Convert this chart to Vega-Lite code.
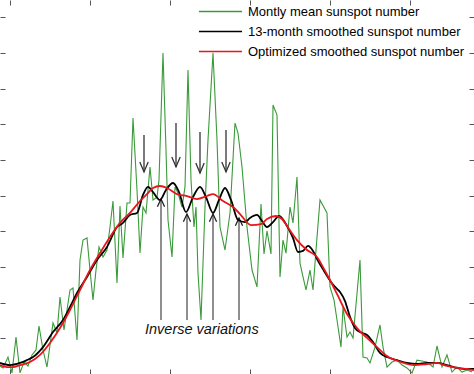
{
  "$schema": "https://vega.github.io/schema/vega-lite/v6.json",
  "width": 474,
  "height": 374,
  "padding": 0,
  "autosize": {"type": "none"},
  "background": "white",
  "config": {"view": {"stroke": null}, "font": "Liberation Sans"},
  "datasets": {
    "monthly": [
      {"m":-3.0,"v":4.5},{"m":-2.1,"v":3.4},{"m":-0.6,"v":9.5},{"m":0.6,"v":0.6},{"m":1.8,"v":20.7},{"m":3.0,"v":0.6},{"m":4.2,"v":6.7},{"m":5.4,"v":4.5},{"m":6.6,"v":10.7},{"m":7.8,"v":13.5},{"m":8.7,"v":26.9},{"m":9.9,"v":13.5},{"m":11.1,"v":3.9},{"m":12.0,"v":16.3},{"m":12.9,"v":28.6},{"m":14.1,"v":23.0},{"m":15.0,"v":43.2},{"m":16.2,"v":24.7},{"m":17.1,"v":35.9},{"m":18.0,"v":47.1},{"m":18.9,"v":48.2},{"m":20.1,"v":19.1},{"m":21.0,"v":63.9},{"m":21.9,"v":75.1},{"m":23.1,"v":76.3},{"m":24.0,"v":58.3},{"m":24.9,"v":41.5},{"m":25.8,"v":58.3},{"m":26.7,"v":71.2},{"m":27.9,"v":65.6},{"m":29.1,"v":69.5},{"m":30.0,"v":82.4},{"m":30.9,"v":97.0},{"m":32.1,"v":51.0},{"m":33.0,"v":94.2},{"m":33.9,"v":65.0},{"m":35.1,"v":95.9},{"m":36.0,"v":95.9},{"m":36.9,"v":143.5},{"m":38.1,"v":103.2},{"m":39.0,"v":67.8},{"m":39.9,"v":93.6},{"m":40.8,"v":90.3},{"m":42.0,"v":116.1},{"m":42.9,"v":97.6},{"m":44.1,"v":99.2},{"m":44.7,"v":108.8},{"m":45.9,"v":180.0},{"m":46.8,"v":125.6},{"m":47.4,"v":86.3},{"m":48.6,"v":65.6},{"m":49.5,"v":104.9},{"m":50.4,"v":101.5},{"m":51.6,"v":93.6},{"m":52.5,"v":104.9},{"m":53.4,"v":170.5},{"m":54.3,"v":108.8},{"m":55.2,"v":82.4},{"m":55.8,"v":93.6},{"m":56.4,"v":56.6},{"m":57.3,"v":30.3},{"m":58.5,"v":93.6},{"m":59.4,"v":131.2},{"m":60.9,"v":180.0},{"m":62.1,"v":131.2},{"m":63.0,"v":82.4},{"m":64.5,"v":69.5},{"m":66.0,"v":90.3},{"m":67.5,"v":140.7},{"m":68.4,"v":135.1},{"m":69.6,"v":116.1},{"m":71.1,"v":82.4},{"m":72.6,"v":58.3},{"m":74.1,"v":48.8},{"m":75.3,"v":95.3},{"m":76.2,"v":67.3},{"m":77.1,"v":80.2},{"m":78.3,"v":67.3},{"m":78.9,"v":150.8},{"m":80.1,"v":145.2},{"m":81.0,"v":54.4},{"m":81.9,"v":75.1},{"m":82.8,"v":67.8},{"m":84.0,"v":93.6},{"m":84.9,"v":84.7},{"m":86.1,"v":110.5},{"m":87.0,"v":62.2},{"m":87.9,"v":54.4},{"m":88.8,"v":47.1},{"m":90.0,"v":58.3},{"m":90.9,"v":47.1},{"m":91.8,"v":69.5},{"m":93.0,"v":97.6},{"m":95.1,"v":90.3},{"m":96.0,"v":48.8},{"m":97.2,"v":41.5},{"m":98.1,"v":30.3},{"m":99.3,"v":15.1},{"m":99.9,"v":37.6},{"m":101.1,"v":20.7},{"m":102.0,"v":23.5},{"m":102.9,"v":20.2},{"m":105.0,"v":63.9},{"m":105.9,"v":9.5},{"m":107.1,"v":9.0},{"m":108.0,"v":6.2},{"m":109.5,"v":15.1},{"m":111.0,"v":27.5},{"m":111.9,"v":15.1},{"m":113.1,"v":3.9},{"m":114.6,"v":6.7},{"m":116.1,"v":7.8},{"m":117.6,"v":5.0},{"m":119.1,"v":3.4},{"m":120.6,"v":0.6},{"m":122.1,"v":7.8},{"m":123.6,"v":7.3},{"m":125.1,"v":6.7},{"m":126.9,"v":3.9},{"m":128.1,"v":15.7},{"m":129.6,"v":3.9},{"m":131.1,"v":10.7},{"m":132.6,"v":1.1},{"m":134.1,"v":3.9},{"m":135.6,"v":1.1},{"m":137.1,"v":2.2},{"m":138.6,"v":1.1}
    ],
    "smooth13": [
      {"m":-3.0,"v":6.2},{"m":0.0,"v":5.0},{"m":3.0,"v":6.2},{"m":5.1,"v":7.8},{"m":6.9,"v":9.5},{"m":9.9,"v":15.1},{"m":12.9,"v":23.5},{"m":15.9,"v":30.3},{"m":18.0,"v":37.6},{"m":20.1,"v":45.4},{"m":23.1,"v":54.4},{"m":26.1,"v":63.9},{"m":29.1,"v":71.2},{"m":32.1,"v":82.4},{"m":33.9,"v":84.7},{"m":36.0,"v":89.2},{"m":38.1,"v":90.3},{"m":39.9,"v":100.4},{"m":41.4,"v":104.9},{"m":42.9,"v":102.0},{"m":45.0,"v":97.6},{"m":46.8,"v":103.2},{"m":48.9,"v":107.1},{"m":50.7,"v":102.0},{"m":52.8,"v":90.8},{"m":54.9,"v":99.2},{"m":57.0,"v":104.9},{"m":58.8,"v":99.2},{"m":60.9,"v":90.3},{"m":62.7,"v":97.6},{"m":64.5,"v":104.3},{"m":66.3,"v":97.6},{"m":68.4,"v":86.3},{"m":70.5,"v":85.2},{"m":72.0,"v":87.5},{"m":74.1,"v":89.2},{"m":75.6,"v":85.8},{"m":77.1,"v":82.4},{"m":78.9,"v":85.2},{"m":80.7,"v":88.6},{"m":83.1,"v":83.0},{"m":84.9,"v":76.3},{"m":86.4,"v":68.4},{"m":87.9,"v":69.0},{"m":89.4,"v":71.8},{"m":90.9,"v":69.0},{"m":92.4,"v":63.4},{"m":94.2,"v":57.8},{"m":96.3,"v":51.6},{"m":98.1,"v":47.7},{"m":99.0,"v":46.0},{"m":100.5,"v":40.9},{"m":102.0,"v":32.0},{"m":103.5,"v":25.8},{"m":105.0,"v":23.5},{"m":107.1,"v":21.9},{"m":108.9,"v":17.9},{"m":111.0,"v":11.8},{"m":113.1,"v":9.5},{"m":116.1,"v":7.8},{"m":119.1,"v":6.2},{"m":122.1,"v":5.6},{"m":125.1,"v":6.2},{"m":128.1,"v":6.2},{"m":131.1,"v":5.0},{"m":134.1,"v":3.4},{"m":136.5,"v":2.8},{"m":139.2,"v":2.8}
    ],
    "optimized": [
      {"m":-3.0,"v":5.0},{"m":-0.9,"v":3.9},{"m":0.9,"v":3.9},{"m":3.0,"v":5.0},{"m":6.0,"v":6.7},{"m":9.0,"v":10.7},{"m":12.0,"v":17.4},{"m":15.0,"v":25.8},{"m":18.0,"v":35.9},{"m":21.0,"v":47.1},{"m":24.0,"v":58.3},{"m":27.0,"v":67.8},{"m":30.0,"v":76.8},{"m":33.0,"v":84.7},{"m":36.0,"v":90.3},{"m":39.0,"v":97.0},{"m":41.1,"v":100.9},{"m":42.9,"v":104.3},{"m":45.0,"v":105.4},{"m":47.1,"v":104.3},{"m":50.1,"v":100.9},{"m":53.1,"v":99.8},{"m":56.1,"v":98.1},{"m":59.1,"v":99.8},{"m":60.9,"v":100.9},{"m":63.9,"v":97.0},{"m":66.9,"v":93.6},{"m":69.0,"v":89.7},{"m":72.3,"v":83.5},{"m":75.3,"v":84.1},{"m":77.1,"v":86.9},{"m":79.8,"v":88.6},{"m":81.6,"v":86.9},{"m":83.7,"v":81.3},{"m":86.1,"v":75.1},{"m":89.1,"v":69.5},{"m":92.1,"v":65.6},{"m":94.2,"v":58.9},{"m":96.3,"v":51.6},{"m":98.1,"v":44.9},{"m":101.1,"v":33.6},{"m":104.1,"v":25.8},{"m":107.1,"v":20.2},{"m":110.1,"v":15.1},{"m":113.1,"v":10.1},{"m":117.3,"v":6.7},{"m":121.2,"v":5.0},{"m":125.1,"v":5.6},{"m":128.1,"v":6.2},{"m":131.1,"v":4.5},{"m":134.1,"v":3.4},{"m":137.1,"v":2.8},{"m":139.2,"v":2.2}
    ],
    "arrows": [
      {"m":40.2,"top":134.0,"tip":113.3},
      {"m":49.8,"top":140.7,"tip":116.1},
      {"m":57.0,"top":135.7,"tip":112.7},
      {"m":64.8,"top":136.8,"tip":113.3}
    ],
    "inverse": [
      {"m":45.3,"top":98.1,"bottom":30.3},
      {"m":53.1,"top":89.7,"bottom":30.3},
      {"m":60.9,"top":89.7,"bottom":30.3},
      {"m":68.7,"top":87.5,"bottom":30.3}
    ],
    "label": [{"m":40.5,"v":22.4,"text":"Inverse variations"}]
  },
  "layer": [
    {
      "data": {"name": "monthly"},
      "mark": {"type": "line", "strokeWidth": 1.1, "interpolate": "linear"},
      "encoding": {
        "x": {"field": "m", "type": "quantitative", "scale": {"domain": [-3, 139.2], "nice": false, "zero": false},
              "axis": {"orient": "bottom", "offset": -5, "tickSize": 5, "labels": false, "domain": false, "grid": false, "title": null, "values": [0,24,48,72,96,120], "tickColor": "#555", "tickWidth": 1}},
        "y": {"field": "v", "type": "quantitative", "scale": {"domain": [0, 209.7], "nice": false, "zero": false},
              "axis": {"orient": "left", "offset": -5, "tickSize": 5, "labels": false, "domain": false, "grid": false, "title": null, "values": [20,40,60,80,100,120,140,160,180,200], "tickColor": "#555", "tickWidth": 1}},
        "color": {"datum": "Montly mean sunspot number", "type": "nominal",
                  "scale": {"domain": ["Montly mean sunspot number", "13-month smoothed sunspot number", "Optimized smoothed sunspot number"], "range": ["#3a9a3a", "#000000", "#e8161c"]},
                  "legend": {"orient": "none", "legendX": 214, "legendY": 5, "title": null, "symbolType": "M-4,0H4", "symbolSize": 116, "symbolStrokeWidth": 1.6, "symbolFillColor": "transparent", "labelFontSize": 13, "labelFont": "Liberation Sans", "labelColor": "#000", "labelOffset": 21, "rowPadding": 6, "padding": 0, "labelLimit": 400}}
      }
    },
    {
      "data": {"name": "arrows"},
      "mark": {"type": "rule", "color": "#333", "strokeWidth": 1.3},
      "encoding": {
        "x": {"field": "m", "type": "quantitative", "axis": null},
        "y": {"field": "top", "type": "quantitative", "axis": null},
        "y2": {"field": "tip"}
      }
    },
    {
      "data": {"name": "arrows"},
      "mark": {"type": "point", "shape": "M-1.4,-3.3L0,0L1.4,-3.3", "filled": false, "size": 36, "stroke": "#333", "strokeWidth": 1.3, "opacity": 1},
      "encoding": {
        "x": {"field": "m", "type": "quantitative", "axis": null},
        "y": {"field": "tip", "type": "quantitative", "axis": null}
      }
    },
    {
      "data": {"name": "inverse"},
      "mark": {"type": "rule", "color": "#444", "strokeWidth": 1.2},
      "encoding": {
        "x": {"field": "m", "type": "quantitative", "axis": null},
        "y": {"field": "top", "type": "quantitative", "axis": null},
        "y2": {"field": "bottom"}
      }
    },
    {
      "data": {"name": "inverse"},
      "mark": {"type": "point", "shape": "M-1.2,2.6L0,0L1.2,2.6", "filled": false, "size": 36, "stroke": "#222", "strokeWidth": 1.3, "opacity": 1},
      "encoding": {
        "x": {"field": "m", "type": "quantitative", "axis": null},
        "y": {"field": "top", "type": "quantitative", "axis": null}
      }
    },
    {
      "data": {"name": "label"},
      "mark": {"type": "text", "align": "left", "baseline": "alphabetic", "fontSize": 14.5, "fontStyle": "italic", "font": "Liberation Sans", "color": "#111"},
      "encoding": {
        "x": {"field": "m", "type": "quantitative", "axis": null},
        "y": {"field": "v", "type": "quantitative", "axis": null},
        "text": {"field": "text"}
      }
    },
    {
      "data": {"name": "smooth13"},
      "mark": {"type": "line", "strokeWidth": 1.8, "interpolate": "monotone"},
      "encoding": {
        "x": {"field": "m", "type": "quantitative",
              "axis": {"orient": "top", "offset": -5, "tickSize": 5, "labels": false, "domain": false, "grid": false, "title": null, "values": [0,24,48,72,96,120], "tickColor": "#555", "tickWidth": 1}},
        "y": {"field": "v", "type": "quantitative",
              "axis": {"orient": "right", "offset": -5, "tickSize": 5, "labels": false, "domain": false, "grid": false, "title": null, "values": [20,40,60,80,100,120,140,160,180,200], "tickColor": "#555", "tickWidth": 1}},
        "color": {"datum": "13-month smoothed sunspot number", "type": "nominal"}
      }
    },
    {
      "data": {"name": "optimized"},
      "mark": {"type": "line", "strokeWidth": 1.8, "interpolate": "monotone"},
      "encoding": {
        "x": {"field": "m", "type": "quantitative", "axis": null},
        "y": {"field": "v", "type": "quantitative", "axis": null},
        "color": {"datum": "Optimized smoothed sunspot number", "type": "nominal"}
      }
    }
  ],
  "resolve": {"axis": {"x": "independent", "y": "independent"}}
}
